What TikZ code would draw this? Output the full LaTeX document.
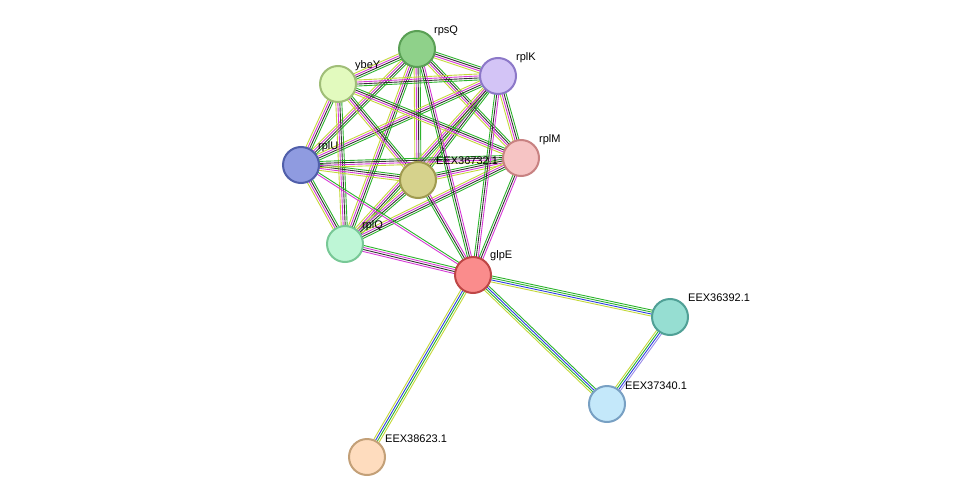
\documentclass[tikz,border=0pt]{standalone}
\usepackage{fontspec}
\setmainfont{Liberation Sans}
\usetikzlibrary{calc,backgrounds}

\definecolor{sgreen}{HTML}{2CB32C}
\definecolor{sblue}{HTML}{2F3FE0}
\definecolor{smag}{HTML}{D63AD6}
\definecolor{sblack}{HTML}{333333}
\definecolor{syel}{HTML}{C4D83A}
\definecolor{spurp}{HTML}{9A8CE8}

\tikzset{
  prot/.style={circle, minimum size=36pt, line width=2pt, inner sep=0pt},
  lbl/.style={font=\fontsize{11}{13}\selectfont, inner sep=1pt},
  ln/.style={line width=0.9pt},
}

% one coloured strand per evidence type, laid side by side
\newcommand\strlink[3]{%
  \foreach \c [count=\i] in {#3} {
    \pgfmathsetmacro\o{(\i-1)*2-3}
    \draw[ln,\c] ($(#1)!\o pt!90:(#2)$) -- ($(#2)!\o pt!-90:(#1)$);
  }}

\begin{document}
\begin{tikzpicture}[x=1pt,y=-1pt]
\useasboundingbox (0,0) rectangle (976,503);

% proteins
\node[prot, fill={rgb,255:red,143;green,209;blue,138}, draw={rgb,255:red,90;green,160;blue,85}] (rpsQ) at (417,49) {};
\node[prot, fill={rgb,255:red,211;green,196;blue,246}, draw={rgb,255:red,140;green,120;blue,200}] (rplK) at (498,76) {};
\node[prot, fill={rgb,255:red,226;green,250;blue,190}, draw={rgb,255:red,160;green,190;blue,120}] (ybeY) at (338,84) {};
\node[prot, fill={rgb,255:red,143;green,155;blue,224}, draw={rgb,255:red,80;green,95;blue,170}] (rplU) at (301,165) {};
\node[prot, fill={rgb,255:red,214;green,210;blue,140}, draw={rgb,255:red,160;green,155;blue,80}] (EEX32) at (418,180) {};
\node[prot, fill={rgb,255:red,246;green,196;blue,196}, draw={rgb,255:red,200;green,130;blue,130}] (rplM) at (521,158) {};
\node[prot, fill={rgb,255:red,190;green,246;blue,214}, draw={rgb,255:red,120;green,200;blue,150}] (rplQ) at (345,244) {};
\node[prot, fill={rgb,255:red,250;green,140;blue,140}, draw={rgb,255:red,190;green,70;blue,70}] (glpE) at (473,275) {};
\node[prot, fill={rgb,255:red,150;green,222;blue,210}, draw={rgb,255:red,80;green,160;blue,150}] (EEX92) at (670,317) {};
\node[prot, fill={rgb,255:red,196;green,232;blue,250}, draw={rgb,255:red,120;green,160;blue,195}] (EEX40) at (607,404) {};
\node[prot, fill={rgb,255:red,254;green,220;blue,190}, draw={rgb,255:red,195;green,160;blue,120}] (EEX23) at (367,457) {};

% labels
\node[lbl, anchor=south west] at ($(rpsQ)+(16,-12)$) {rpsQ};
\node[lbl, anchor=south west] at ($(rplK)+(17,-12)$) {rplK};
\node[lbl, anchor=south west] at ($(ybeY)+(16,-12)$) {ybeY};
\node[lbl, anchor=south west] at ($(rplU)+(16,-12)$) {rplU};
\node[lbl, anchor=south west] at ($(EEX32)+(17,-14)$) {EEX36732.1};
\node[lbl, anchor=south west] at ($(rplM)+(17,-12)$) {rplM};
\node[lbl, anchor=south west] at ($(rplQ)+(16,-12)$) {rplQ};
\node[lbl, anchor=south west] at ($(glpE)+(16,-13)$) {glpE};
\node[lbl, anchor=south west] at ($(EEX92)+(17,-14)$) {EEX36392.1};
\node[lbl, anchor=south west] at ($(EEX40)+(17,-13)$) {EEX37340.1};
\node[lbl, anchor=south west] at ($(EEX23)+(17,-13)$) {EEX38623.1};

% evidence links
\begin{scope}[on background layer]
\foreach \a/\b in {rpsQ/rplK, rpsQ/ybeY, rpsQ/rplU, rpsQ/EEX32, rpsQ/rplM, rpsQ/rplQ,
  rplK/ybeY, rplK/rplU, rplK/EEX32, rplK/rplM, rplK/rplQ,
  ybeY/rplU, ybeY/EEX32, ybeY/rplM, ybeY/rplQ,
  rplU/EEX32, rplU/rplM, rplU/rplQ,
  EEX32/rplM, EEX32/rplQ, rplM/rplQ}
  \strlink{\a}{\b}{syel,smag,sblack,sgreen};
\foreach \a in {rpsQ, rplK, rplM, EEX32}
  \strlink{glpE}{\a}{smag,sblack,sgreen};
\strlink{glpE}{rplQ}{sgreen,smag,sblack,smag};
\strlink{glpE}{rplU}{sgreen,smag};
\strlink{glpE}{EEX92}{syel,sblue,sgreen,sgreen};
\strlink{glpE}{EEX40}{syel,sgreen,sblue,sgreen};
\strlink{glpE}{EEX23}{syel,sblue,sgreen,syel};
\strlink{EEX92}{EEX40}{syel,sgreen,sblue,spurp};
\end{scope}
\end{tikzpicture}
\end{document}
